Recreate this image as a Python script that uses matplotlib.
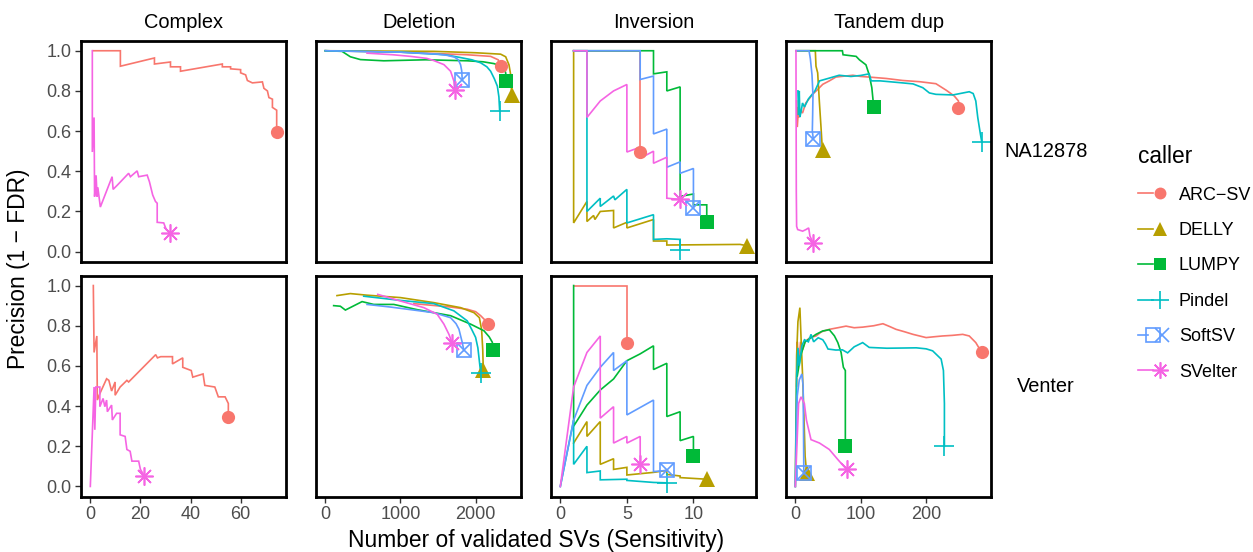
import matplotlib
matplotlib.use('Agg')
import matplotlib.pyplot as plt
from matplotlib.lines import Line2D
from matplotlib.legend_handler import HandlerTuple

plt.rcParams['font.family'] = ['Liberation Sans', 'DejaVu Sans']

# callers / colours (ggplot default hue palette)
callers = ['ARC−SV', 'DELLY', 'LUMPY', 'Pindel', 'SoftSV', 'SVelter']
colors = ['#F8766D', '#B79F00', '#00BA38', '#00BFC4', '#619CFF', '#F564E3']
sv_types = ['Complex', 'Deletion', 'Inversion', 'Tandem dup']
samples = ['NA12878', 'Venter']
x_ticks = [[0, 20, 40, 60], [0, 1000, 2000], [0, 5, 10], [0, 100, 200]]
y_ticks = [0.0, 0.2, 0.4, 0.6, 0.8, 1.0]

# ---- NA12878 ----
na_complex = {
    'ARC−SV': ([1, 12, 12, 25.6, 25.6, 32, 32, 36, 36, 52.7, 52.7, 56, 56, 60, 60, 62, 62.7, 64.7,
                68.7, 69.3, 70.7, 71.3, 72.7, 72.7, 74.4, 74.4],
               [1.0, 1.0, 0.923, 0.964, 0.934, 0.944, 0.92, 0.92, 0.898, 0.934, 0.92, 0.92, 0.91,
                0.906, 0.89, 0.88, 0.852, 0.84, 0.845, 0.813, 0.80, 0.767, 0.759, 0.718, 0.704, 0.594]),
    'SVelter': ([0.8, 0.8, 1.5, 1.7, 2.3, 2.7, 3, 4, 8.7, 9.1, 10.7, 15.3, 16, 18.7, 19.3, 22.7,
                 23.6, 24.9, 26, 26.7, 26.7, 29.3, 30.3, 31.7],
                [1.0, 0.496, 0.668, 0.274, 0.38, 0.274, 0.32, 0.222, 0.373, 0.31, 0.33, 0.39, 0.373,
                 0.402, 0.373, 0.381, 0.348, 0.282, 0.25, 0.241, 0.146, 0.143, 0.11, 0.094]),
}
na_deletion = {
    'ARC−SV': ([0, 1000, 1889, 2200, 2300, 2333], [1.0, 0.993, 0.98, 0.972, 0.955, 0.926]),
    'DELLY': ([0, 1444, 2000, 2333, 2400, 2444, 2467, 2476, 2480],
              [1.0, 0.997, 0.99, 0.983, 0.97, 0.93, 0.88, 0.816, 0.778]),
    'LUMPY': ([0, 222, 333, 467, 778, 1333, 1889, 2100, 2244, 2330, 2378, 2400, 2409],
              [1.0, 0.997, 0.97, 0.956, 0.95, 0.955, 0.95, 0.945, 0.936, 0.925, 0.915, 0.89, 0.85]),
    'Pindel': ([0, 1000, 1600, 1800, 1950, 2067, 2150, 2200, 2250, 2289, 2310, 2320],
               [1.0, 0.993, 0.98, 0.966, 0.955, 0.94, 0.92, 0.898, 0.86, 0.824, 0.77, 0.70]),
    'SoftSV': ([0, 1000, 1500, 1622, 1720, 1770, 1800, 1815, 1822],
               [1.0, 0.993, 0.983, 0.977, 0.968, 0.955, 0.93, 0.9, 0.854]),
    'SVelter': ([555, 900, 1133, 1350, 1444, 1578, 1667, 1711, 1720],
                [0.988, 0.98, 0.972, 0.962, 0.951, 0.931, 0.898, 0.849, 0.803]),
}
na_inversion = {
    'ARC−SV': ([1, 6, 6], [1.0, 1.0, 0.496]),
    'DELLY': ([1, 1, 2, 2, 2.5, 2.6, 3, 4, 4, 5, 5, 7, 7, 8, 8, 13.5, 14],
              [1.0, 0.143, 0.25, 0.15, 0.18, 0.16, 0.2, 0.205, 0.118, 0.146, 0.118, 0.16, 0.053,
               0.053, 0.033, 0.036, 0.03]),
    'LUMPY': ([1, 7, 7, 8, 8, 9, 9, 10, 10, 11, 11],
              [1.0, 1.0, 0.885, 0.895, 0.8, 0.82, 0.275, 0.287, 0.233, 0.233, 0.146]),
    'Pindel': ([1, 2, 2, 3, 3, 4, 4.1, 5, 5, 7, 7, 8, 9, 9],
               [1.0, 1.0, 0.2, 0.266, 0.225, 0.277, 0.258, 0.31, 0.143, 0.184, 0.061, 0.064, 0.061, 0.008]),
    'SoftSV': ([1, 6, 6, 7, 7, 8, 8, 9, 9, 10, 10],
               [1.0, 1.0, 0.857, 0.874, 0.586, 0.61, 0.42, 0.447, 0.39, 0.414, 0.217]),
    'SVelter': ([1, 2, 2, 3, 4, 5, 5, 6, 6, 7, 7, 8, 8, 9],
                [1.0, 1.0, 0.668, 0.75, 0.8, 0.832, 0.496, 0.52, 0.465, 0.5, 0.44, 0.47, 0.266, 0.26]),
}
na_tandem = {
    'ARC−SV': ([2, 3, 5, 6, 8, 11, 16, 26.5, 35, 42, 52, 62, 70, 88, 100, 113, 139, 164, 190, 215,
                231, 243, 249.5, 249.5],
               [0.75, 0.62, 0.72, 0.668, 0.70, 0.69, 0.74, 0.783, 0.81, 0.833, 0.85, 0.869, 0.872,
                0.878, 0.872, 0.869, 0.862, 0.852, 0.846, 0.836, 0.803, 0.775, 0.75, 0.713]),
    'DELLY': ([1, 30.6, 31.6, 34.2, 36.7, 39.3, 40.8, 41.8],
              [1.0, 1.0, 0.923, 0.89, 0.75, 0.619, 0.537, 0.504]),
    'LUMPY': ([1, 72, 73, 93, 98, 108, 113, 117, 119, 121],
              [1.0, 1.0, 0.98, 0.972, 0.955, 0.93, 0.88, 0.816, 0.75, 0.72]),
    'Pindel': ([4, 5, 6, 7, 9, 11, 14, 20, 30, 37, 50, 67, 85, 100, 113, 116, 130, 164, 180, 195,
                205, 215, 241, 266, 272, 276, 279, 283, 285],
               [0.8, 0.68, 0.8, 0.67, 0.7, 0.74, 0.72, 0.76, 0.8, 0.85, 0.862, 0.878, 0.872, 0.877,
                0.885, 0.85, 0.85, 0.84, 0.835, 0.816, 0.79, 0.783, 0.78, 0.796, 0.787, 0.75, 0.668,
                0.586, 0.548]),
    'SoftSV': ([1, 21, 23, 25.5, 27, 26.5, 26, 27.5],
               [1.0, 1.0, 0.96, 0.88, 0.78, 0.68, 0.6, 0.56]),
    'SVelter': ([1, 1.5, 2, 3.6, 11.2, 16.3, 20.4, 22.4, 27.6],
                [1.0, 0.3, 0.126, 0.11, 0.102, 0.11, 0.118, 0.077, 0.041]),
}

# ---- Venter ----
ve_complex = {
    'ARC−SV': ([1.2, 1.5, 2.6, 2.8, 3.8, 6.5, 7.4, 8.5, 9.9, 9.9, 11.9, 14.6, 15.3, 26.1, 26.8,
                28.1, 30.8, 32.8, 32.8, 36.9, 36.9, 40.3, 40.9, 45, 45.7, 49.7, 51.1, 53.8, 55.1, 55.1],
               [1.0, 0.667, 0.749, 0.43, 0.462, 0.536, 0.528, 0.475, 0.52, 0.454, 0.495, 0.528, 0.52,
                0.656, 0.64, 0.646, 0.646, 0.646, 0.61, 0.64, 0.593, 0.577, 0.544, 0.56, 0.503, 0.495,
                0.446, 0.446, 0.413, 0.348]),
    'SVelter': ([0, 1.5, 1.8, 2.2, 3.8, 3.8, 5.1, 5.8, 6.5, 6.8, 8.5, 8.8, 10.5, 11.9, 11.9, 13.9,
                 14.6, 15.9, 16.6, 19.3, 20, 21.6],
                [0.0, 0.495, 0.282, 0.495, 0.495, 0.397, 0.438, 0.397, 0.43, 0.372, 0.405, 0.331,
                 0.364, 0.364, 0.257, 0.249, 0.184, 0.175, 0.126, 0.126, 0.085, 0.052]),
}
ve_deletion = {
    'ARC−SV': ([1178, 1667, 1889, 2000, 2067, 2120, 2164], [0.91, 0.893, 0.882, 0.87, 0.85, 0.83, 0.808]),
    'DELLY': ([155, 333, 555, 1000, 1444, 1800, 1978, 2050, 2080, 2095, 2102],
              [0.95, 0.96, 0.952, 0.94, 0.915, 0.89, 0.865, 0.84, 0.78, 0.68, 0.58]),
    'LUMPY': ([111, 200, 267, 489, 644, 911, 1222, 1667, 1933, 2111, 2180, 2222, 2235],
              [0.90, 0.897, 0.878, 0.92, 0.906, 0.906, 0.88, 0.85, 0.808, 0.775, 0.745, 0.718, 0.68]),
    'Pindel': ([511, 1000, 1444, 1711, 1889, 1950, 2000, 2030, 2044, 2067],
               [0.947, 0.926, 0.91, 0.874, 0.824, 0.78, 0.742, 0.69, 0.644, 0.566]),
    'SoftSV': ([555, 867, 1444, 1667, 1740, 1778, 1820, 1844],
               [0.906, 0.893, 0.865, 0.84, 0.81, 0.783, 0.72, 0.677]),
    'SVelter': ([698, 1000, 1311, 1489, 1578, 1644, 1689],
                [0.956, 0.923, 0.89, 0.857, 0.808, 0.758, 0.713]),
}
ve_inversion = {
    'ARC−SV': ([1, 5, 5], [1.0, 1.0, 0.716]),
    'DELLY': ([1, 2, 2, 3, 3, 4, 4, 5, 5, 7, 8, 8, 9, 9, 10, 11],
              [0.216, 0.323, 0.249, 0.323, 0.11, 0.138, 0.085, 0.095, 0.057, 0.07, 0.08, 0.06,
               0.052, 0.044, 0.04, 0.036]),
    'LUMPY': ([1, 1, 2, 3, 4, 5, 6, 7, 7, 8, 8, 9, 9, 10, 10],
              [1.0, 0.3, 0.405, 0.48, 0.535, 0.626, 0.66, 0.7, 0.582, 0.613, 0.348, 0.372, 0.228,
               0.249, 0.15]),
    'Pindel': ([0, 1, 1, 2, 2, 3, 3, 5, 5, 7, 8],
               [0.0, 0.33, 0.11, 0.2, 0.069, 0.077, 0.033, 0.036, 0.03, 0.02, 0.018]),
    'SoftSV': ([0, 1, 2, 3, 4, 4, 5, 5, 7, 7, 8],
               [0.0, 0.33, 0.503, 0.593, 0.667, 0.577, 0.626, 0.356, 0.43, 0.074, 0.08]),
    'SVelter': ([0, 1, 2, 3, 3, 4, 4, 5, 5, 6, 6],
                [0.0, 0.495, 0.667, 0.749, 0.34, 0.397, 0.216, 0.249, 0.216, 0.249, 0.11]),
}
ve_tandem = {
    'ARC−SV': ([2, 3, 5, 8, 11, 15, 22, 31.6, 40, 52, 65, 77.6, 90, 103, 120, 134, 145, 154, 167,
                180, 200, 212, 225, 240, 256, 266, 276, 285],
               [0.5, 0.72, 0.6, 0.72, 0.68, 0.72, 0.74, 0.749, 0.77, 0.782, 0.79, 0.798, 0.79, 0.793,
                0.8, 0.81, 0.795, 0.782, 0.77, 0.757, 0.741, 0.745, 0.749, 0.752, 0.757, 0.749, 0.716,
                0.667]),
    'DELLY': ([0, 2, 4, 7, 9, 11, 13, 15, 17.3], [0.0, 0.65, 0.82, 0.89, 0.72, 0.56, 0.37, 0.15, 0.069]),
    'LUMPY': ([3, 8, 15, 24, 31.6, 42, 52, 59.7, 65, 70, 73.5, 76.5, 76.5],
              [0.55, 0.65, 0.72, 0.74, 0.757, 0.774, 0.78, 0.75, 0.716, 0.667, 0.593, 0.577, 0.2]),
    'Pindel': ([0, 2, 4, 6, 8, 10, 14, 20, 24, 28, 35, 42, 46, 50, 62, 72, 80, 90, 103, 113, 140,
                164, 185, 200, 210, 223, 226.5, 228, 228],
               [0.0, 0.55, 0.69, 0.6, 0.65, 0.7, 0.73, 0.72, 0.757, 0.72, 0.74, 0.73, 0.71, 0.684,
                0.679, 0.68, 0.665, 0.695, 0.716, 0.692, 0.688, 0.689, 0.69, 0.685, 0.675, 0.634,
                0.577, 0.413, 0.2]),
    'SoftSV': ([0, 3, 6, 10, 12, 13], [0.0, 0.45, 0.53, 0.56, 0.5, 0.066]),
    'SVelter': ([0, 5, 8.7, 13.8, 17, 24, 37, 52, 65, 78.5],
                [0.0, 0.413, 0.446, 0.413, 0.33, 0.233, 0.216, 0.184, 0.134, 0.085]),
}

panels = [[na_complex, na_deletion, na_inversion, na_tandem],
          [ve_complex, ve_deletion, ve_inversion, ve_tandem]]


def marker_style(caller, color, scale=1.0):
    # ggplot shapes 16, 17, 15, 3, 7, 8
    base = dict(color=color, ls='none')
    if caller == 'ARC−SV':
        return [dict(marker='o', ms=9.5 * scale, mew=0, **base)]
    if caller == 'DELLY':
        return [dict(marker='^', ms=11 * scale, mew=0, **base)]
    if caller == 'LUMPY':
        return [dict(marker='s', ms=9.5 * scale, mew=0, **base)]
    if caller == 'Pindel':
        return [dict(marker='+', ms=15 * scale, mew=1.2, **base)]
    if caller == 'SoftSV':
        return [dict(marker='s', ms=10.5 * scale, mew=1.2, mfc='none', **base),
                dict(marker='x', ms=10.5 * scale, mew=1.2, **base)]
    return [dict(marker=(8, 2, 0), ms=13 * scale, mew=1.2, **base)]


W, H = 1253, 552
fig = plt.figure(figsize=(W / 100, H / 100), dpi=100)

col_left = [81, 316, 551, 786]
row_top = [40.7, 275.5]
pw, ph = 205, 221

for r in range(2):
    for c in range(4):
        ax = fig.add_axes([col_left[c] / W, 1 - (row_top[r] + ph) / H, pw / W, ph / H])
        data = panels[r][c]
        # lines first, then end points (same as ggplot layers)
        for i, caller in enumerate(callers):
            if caller in data:
                xs, ys = data[caller]
                ax.plot(xs, ys, color=colors[i], lw=1.2, solid_joinstyle='miter')
        for i, caller in enumerate(callers):
            if caller in data:
                xs, ys = data[caller]
                for st in marker_style(caller, colors[i]):
                    ax.plot(xs[-1], ys[-1], **st)

        xmax = max(max(panels[rr][c][k][0]) for rr in range(2) for k in panels[rr][c])
        ax.set_xlim(-0.05 * xmax, 1.05 * xmax)
        ax.set_ylim(-0.05, 1.05)
        ax.set_xticks(x_ticks[c])
        ax.set_yticks(y_ticks)
        ax.set_yticklabels([f'{v:.1f}' for v in y_ticks])
        ax.tick_params(direction='out', length=4, width=1, color='#333333',
                       labelcolor='#4D4D4D', labelsize=13, pad=3)
        if r == 0:
            ax.tick_params(axis='x', bottom=False, labelbottom=False)
            ax.set_title(sv_types[c], fontsize=14.4, pad=9)
        if c > 0:
            ax.tick_params(axis='y', left=False, labelleft=False)
        for s in ax.spines.values():
            s.set_linewidth(2)
            s.set_color('black')

for r in range(2):
    fig.text(1046 / W, 1 - (row_top[r] + ph / 2) / H, samples[r], fontsize=14.4,
             ha='center', va='center')

fig.text(536 / W, 1 - 540 / H, 'Number of validated SVs (Sensitivity)', fontsize=16.4,
         ha='center', va='center')
fig.text(19 / W, 1 - 269 / H, 'Precision (1 − FDR)', fontsize=16.4, rotation=90,
         ha='center', va='center')

# legend
handles = []
for i, caller in enumerate(callers):
    parts = [Line2D([], [], color=colors[i], lw=1.2)]
    parts += [Line2D([], [], **st) for st in marker_style(caller, colors[i], scale=0.9)]
    handles.append(tuple(parts))

leg = fig.legend(handles, callers, title='caller', loc='upper left',
                 bbox_to_anchor=(1131 / W, 1 - 138 / H), frameon=False, fontsize=13,
                 title_fontsize=16.4, handlelength=1.6, labelspacing=1.02,
                 handletextpad=0.65, borderaxespad=0,
                 handler_map={tuple: HandlerTuple(ndivide=None, pad=0)})
leg._legend_box.align = 'left'

fig.savefig('out.png', dpi=100)
